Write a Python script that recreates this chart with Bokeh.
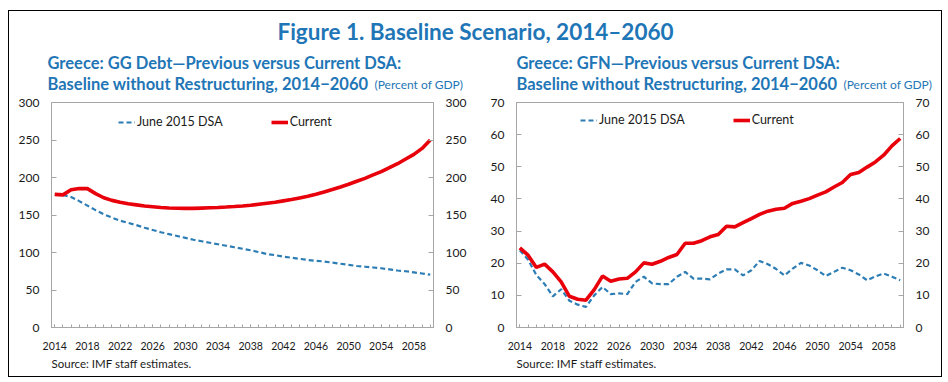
from bokeh.plotting import figure
from bokeh.models import LinearAxis, FixedTicker, Title, Label, Legend, Range1d
from bokeh.layouts import column, row
from bokeh.embed import file_html
from bokeh.resources import INLINE

# ---------------- data ----------------
years = list(range(2014, 2061))

debt_june2015 = [177.2, 176.8, 174.0, 168.5, 162.5, 156.5, 151.0, 146.5, 142.5, 139.5,
                 136.5, 133.0, 130.0, 127.0, 124.5, 122.0, 119.5, 117.0, 115.0, 113.0,
                 111.0, 109.0, 107.0, 105.0, 103.0, 100.5, 98.0, 96.5, 94.5, 93.0,
                 91.5, 90.0, 89.0, 88.0, 86.5, 85.0, 83.5, 82.0, 81.0, 80.0,
                 79.0, 77.5, 76.0, 75.0, 73.5, 72.0, 70.5]
debt_current = [177.5, 176.8, 183.6, 185.4, 185.2, 178.5, 173.0, 169.5, 167.0, 165.0,
                163.5, 162.0, 161.0, 160.0, 159.3, 159.0, 158.8, 158.8, 159.2, 159.6,
                160.0, 160.6, 161.3, 162.1, 163.0, 164.4, 165.7, 167.0, 168.8, 170.6,
                172.8, 175.0, 177.7, 180.8, 183.9, 187.4, 191.0, 195.0, 198.9, 203.4,
                207.8, 213.1, 218.4, 224.6, 230.8, 238.8, 249.9]

gfn_june2015 = [24.0, 21.1, 16.3, 13.5, 9.7, 11.9, 8.3, 7.1, 6.4, 10.0,
                12.6, 10.4, 10.6, 10.4, 14.2, 15.8, 13.7, 13.5, 13.5, 15.8,
                17.3, 15.2, 15.2, 15.0, 16.8, 18.1, 18.1, 16.2, 17.8, 20.7,
                19.7, 18.2, 16.2, 18.3, 20.1, 19.3, 17.8, 16.0, 17.3, 18.6,
                17.8, 16.5, 14.7, 15.9, 16.8, 15.8, 14.7]
gfn_current = [24.8, 22.5, 18.7, 19.7, 17.3, 14.2, 9.7, 8.8, 8.5, 11.8,
               16.0, 14.4, 15.1, 15.3, 17.3, 20.1, 19.7, 20.6, 21.8, 22.7,
               26.2, 26.2, 27.0, 28.2, 28.9, 31.5, 31.3, 32.6, 33.9, 35.2,
               36.2, 36.8, 37.1, 38.6, 39.3, 40.1, 41.2, 42.2, 43.7, 45.1,
               47.6, 48.2, 49.9, 51.5, 53.6, 56.5, 58.8]

x_tick_years = [2014, 2018, 2022, 2026, 2030, 2034, 2038, 2042, 2046, 2050, 2054, 2058]
debt_ticks = [0, 50, 100, 150, 200, 250, 300]
gfn_ticks = [0, 10, 20, 30, 40, 50, 60, 70]

series_names = ["June 2015 DSA", "Current"]
main_title = "Figure 1. Baseline Scenario, 2014\u20132060"
left_title = ["Greece: GG Debt\u2014Previous versus Current DSA:",
              "Baseline without Restructuring, 2014\u22122060"]
right_title = ["Greece: GFN\u2014Previous versus Current DSA:",
               "Baseline without Restructuring, 2014\u22122060"]
unit_text = "(Percent of GDP)"
source_text = "Source: IMF staff estimates."

# ---------------- style ----------------
FONT = "Lato"
TITLE_BLUE = "#1f76b6"
LINE_BLUE = "#2d7db5"
RED = "#e8000b"
GRAY = "#a6a6a6"
TXT = "#1a1a1a"

TOTAL_W = 932
HEADER_H = 84
FIG_H = 281
TOP = 7
BOTTOM = 49


def make_chart(y_max, y_ticks, june, current, width, mleft, mright, legend_loc):
    p = figure(width=width, height=FIG_H,
               x_range=Range1d(2013.6, 2060.4), y_range=Range1d(0, y_max),
               toolbar_location=None, output_backend="svg",
               min_border_left=mleft, min_border_right=mright,
               min_border_top=TOP, min_border_bottom=BOTTOM)
    p.xgrid.visible = False
    p.ygrid.visible = False
    p.outline_line_color = GRAY
    p.outline_line_width = 1
    p.background_fill_color = "white"
    p.border_fill_color = "white"

    p.add_layout(LinearAxis(), "right")

    xa = p.xaxis[0]
    xa.ticker = FixedTicker(ticks=x_tick_years, minor_ticks=years)
    xa.major_tick_in = 3
    xa.major_tick_out = 0
    xa.minor_tick_in = 3
    xa.minor_tick_out = 0
    xa.minor_tick_line_color = GRAY
    xa.major_label_standoff = 14
    xa.major_label_text_font_size = "10.5px"

    for ax in p.yaxis:
        ax.ticker = FixedTicker(ticks=y_ticks)
        ax.major_tick_in = 5
        ax.major_tick_out = 0
        ax.minor_tick_line_color = None
        ax.major_label_standoff = 12
        ax.major_label_text_font_size = "12px"

    for ax in [xa] + list(p.yaxis):
        ax.axis_line_color = GRAY
        ax.major_tick_line_color = GRAY
        ax.major_label_text_font = FONT
        ax.major_label_text_color = TXT

    r_june = p.line(years, june, line_color=LINE_BLUE, line_width=2.2, line_dash="5 3")
    r_cur = p.line(years, current, line_color=RED, line_width=3.6)

    legend = Legend(items=[(series_names[0], [r_june]), (series_names[1], [r_cur])],
                    orientation="horizontal", location=legend_loc,
                    border_line_color=None, background_fill_alpha=0,
                    padding=0, margin=0, spacing=48, glyph_width=17,
                    glyph_height=14, label_standoff=2, label_height=14,
                    label_text_font=FONT, label_text_font_size="12.5px",
                    label_text_color=TXT)
    p.add_layout(legend)

    p.add_layout(Title(text=source_text, align="left", text_font=FONT,
                       text_font_style="normal", text_font_size="11.5px",
                       text_color=TXT, standoff=4), "below")
    return p


left = make_chart(300, debt_ticks, debt_june2015, debt_current, 466, 42, 42, (67, 198))
right = make_chart(70, gfn_ticks, gfn_june2015, gfn_current, 466, 41, 38, (64, 200))

# header with the figure title and the two panel titles (pixel-like ranges)
header = figure(width=TOTAL_W, height=HEADER_H, toolbar_location=None, output_backend="svg",
                x_range=Range1d(0, TOTAL_W), y_range=Range1d(HEADER_H, 0),
                x_axis_location=None, y_axis_location=None, min_border=0)
header.grid.visible = False
header.outline_line_color = None
header.border_fill_color = "white"


def head_label(x, y, text, size, bold=True, align="left"):
    header.add_layout(Label(x=x, y=y, text=text, text_font=FONT,
                            text_font_size=size,
                            text_font_style="bold" if bold else "normal",
                            text_color=TITLE_BLUE, text_baseline="middle",
                            text_align=align))


head_label(TOTAL_W / 2, 20, main_title, "22.5px", align="center")
head_label(38, 51, left_title[0], "16.5px")
head_label(38, 72, left_title[1], "16.5px")
head_label(365, 73, unit_text, "12px", bold=False)
head_label(507, 51, right_title[0], "16.5px")
head_label(507, 72, right_title[1], "16.5px")
head_label(834, 73, unit_text, "12px", bold=False)

layout = column(header, row(left, right), margin=(10, 0, 0, 8),
                styles={"border": "1px solid #000"})

open("out.html", "w").write(file_html(layout, INLINE))
